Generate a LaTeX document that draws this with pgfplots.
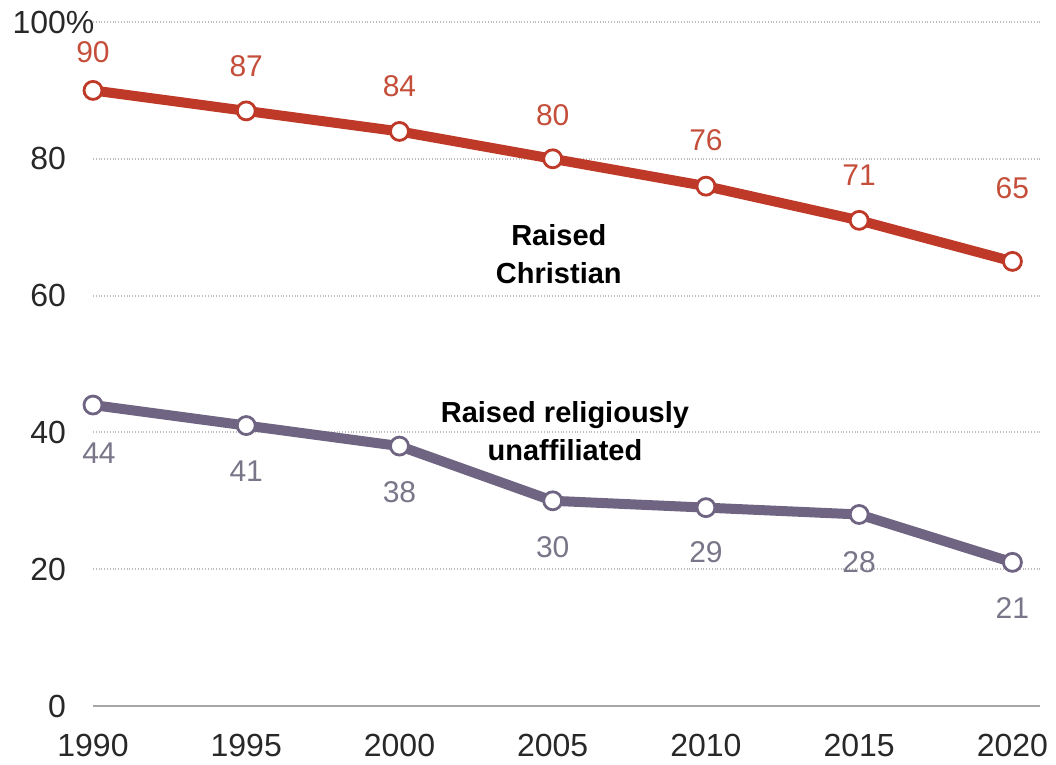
\documentclass[border=0pt]{standalone}
\usepackage{fontspec}
\setmainfont{Liberation Sans}
\usepackage{pgfplots}
\pgfplotsset{compat=1.18}
\definecolor{redline}{RGB}{191,57,41}
\definecolor{redlab}{RGB}{196,78,58}
\definecolor{purline}{RGB}{111,101,130}
\definecolor{purlab}{RGB}{122,117,137}
\definecolor{ticktxt}{RGB}{40,40,40}
\definecolor{gridc}{RGB}{190,190,190}
\begin{document}
\begin{tikzpicture}
\path (-46.5pt,-29.5pt) rectangle (481.5pt,353pt);
\begin{axis}[
  at={(0,0)}, anchor=south west,
  scale only axis, width=473.5pt, height=342pt,
  xmin=1990, xmax=2020.9, ymin=0, ymax=100,
  axis x line=bottom, axis y line=left,
  axis line style={draw=none, -},
  clip=false,
  /pgf/number format/assume math mode=true,
  xtick={1990,1995,2000,2005,2010,2015,2020},
  xticklabels={1990,1995,2000,2005,2010,2015,2020},
  ytick={20,40,60,80,100},
  yticklabels={20,40,60,80,100\rlap{\%}},
  extra y ticks={0}, extra y tick labels={0},
  extra y tick style={grid style={solid, draw=gray!70, line width=1pt}},
  ymajorgrids,
  grid style={densely dotted, draw=gridc, line width=1pt},
  major tick length=0pt,
  tick style={draw=none},
  tick label style={font=\fontsize{16}{19}\selectfont, text=ticktxt},
  yticklabel style={anchor=east, xshift=-10pt},
  xticklabel style={anchor=north, yshift=-10.5pt},
]
\addplot[redline, line width=5pt, mark=*, mark size=4.5pt,
  mark options={fill=white, draw=redline, line width=1.4pt}]
  coordinates {(1990,90) (1995,87) (2000,84) (2005,80) (2010,76) (2015,71) (2020,65)};
\addplot[purline, line width=5pt, mark=*, mark size=4.5pt,
  mark options={fill=white, draw=purline, line width=1.4pt}]
  coordinates {(1990,44) (1995,41) (2000,38) (2005,30) (2010,29) (2015,28) (2020,21)};
\begin{scope}[every node/.style={font=\fontsize{15}{18}\selectfont, text=redlab}]
\node at ([yshift=19pt]axis cs:1990,90) {90};
\node at ([yshift=22.5pt]axis cs:1995,87) {87};
\node at ([yshift=22.5pt]axis cs:2000,84) {84};
\node at ([yshift=22pt]axis cs:2005,80) {80};
\node at ([yshift=23pt]axis cs:2010,76) {76};
\node at ([yshift=22.5pt]axis cs:2015,71) {71};
\node at ([yshift=36.5pt]axis cs:2020,65) {65};
\end{scope}
\begin{scope}[every node/.style={font=\fontsize{15}{18}\selectfont, text=purlab}]
\node at ([xshift=3pt,yshift=-24pt]axis cs:1990,44) {44};
\node at ([yshift=-23pt]axis cs:1995,41) {41};
\node at ([yshift=-23pt]axis cs:2000,38) {38};
\node at ([yshift=-23pt]axis cs:2005,30) {30};
\node at ([yshift=-22.5pt]axis cs:2010,29) {29};
\node at ([yshift=-24pt]axis cs:2015,28) {28};
\node at ([yshift=-23pt]axis cs:2020,21) {21};
\end{scope}
\node[align=center, font=\fontsize{14.5}{19}\selectfont\bfseries, text=black] at (axis cs:2005.2,66) {Raised\\Christian};
\node[align=center, font=\fontsize{14.5}{19}\selectfont\bfseries, text=black] at (axis cs:2005.4,40.2) {Raised religiously\\unaffiliated};
\end{axis}
\end{tikzpicture}
\end{document}
